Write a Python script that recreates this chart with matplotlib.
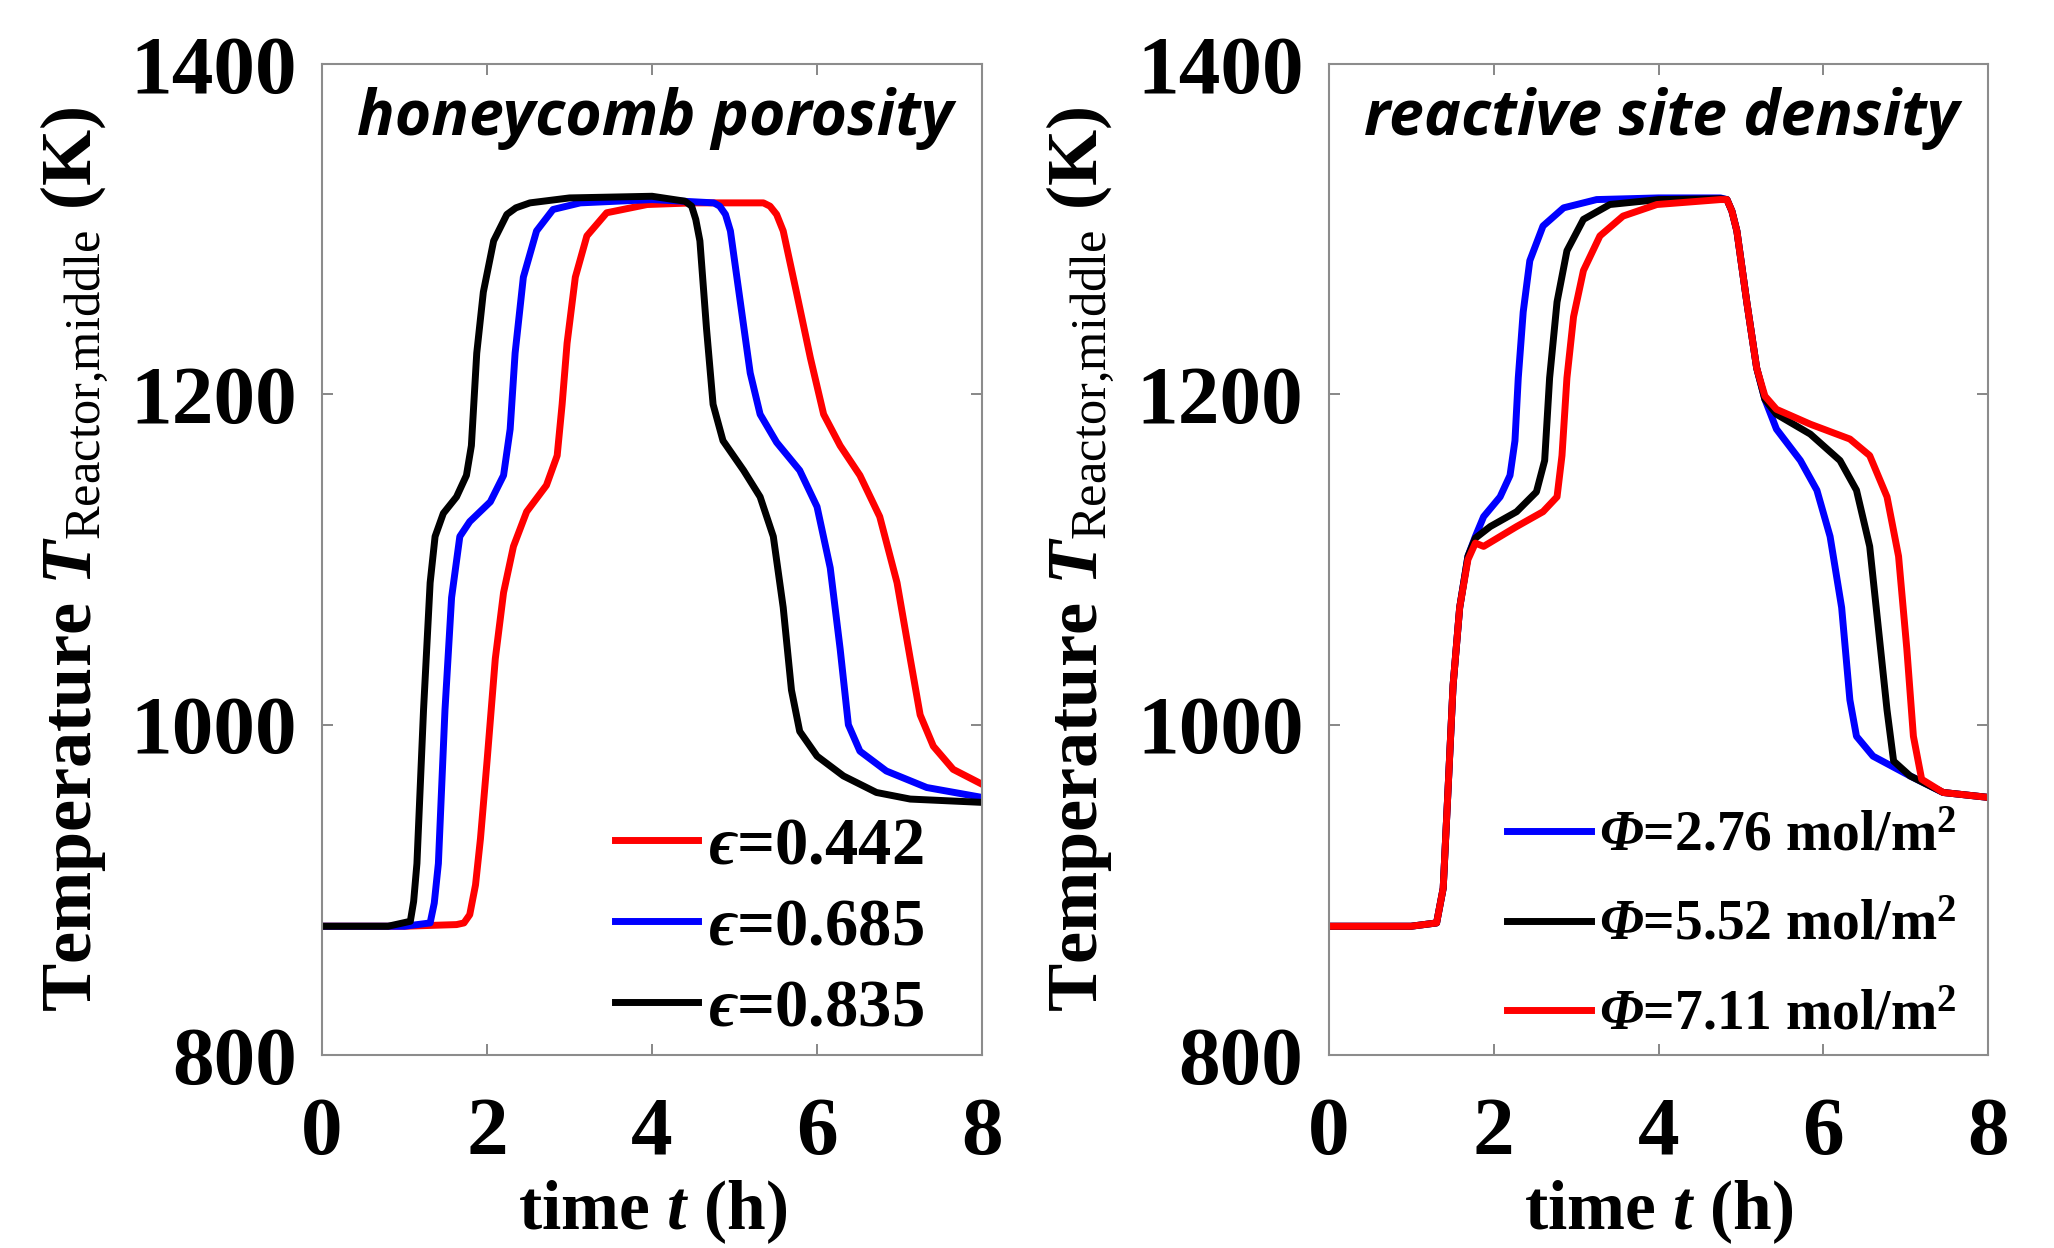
import numpy as np
import matplotlib
matplotlib.use('Agg')
import matplotlib.pyplot as plt

plt.rcParams['font.family'] = ['Liberation Serif', 'DejaVu Serif']
plt.rcParams['font.weight'] = 'bold'
plt.rcParams['axes.labelweight'] = 'bold'
plt.rcParams['mathtext.fontset'] = 'custom'
plt.rcParams['mathtext.rm'] = 'Liberation Serif:bold'
plt.rcParams['mathtext.it'] = 'Liberation Serif:italic:bold'
plt.rcParams['mathtext.bf'] = 'Liberation Serif:bold'
plt.rcParams['mathtext.bfit'] = 'Liberation Serif:italic:bold'
plt.rcParams['mathtext.sf'] = 'Liberation Serif:weight=normal'
plt.rcParams['mathtext.fallback'] = 'stix'

# ---- left panel: honeycomb porosity ----
t_e442 = [0, 1.0, 1.63, 1.72, 1.79, 1.86, 1.92, 2.00, 2.10, 2.20, 2.32, 2.48, 2.72, 2.85,
          2.91, 2.97, 3.07, 3.21, 3.45, 3.94, 4.5, 5.0, 5.35, 5.43, 5.51, 5.59, 5.75, 5.92,
          6.08, 6.28, 6.52, 6.76, 6.97, 7.13, 7.25, 7.41, 7.65, 8.0]
T_e442 = [878, 878, 879, 880, 885, 903, 931, 978, 1040, 1080, 1108, 1129, 1145, 1163,
          1194, 1231, 1271, 1296, 1310, 1315, 1316, 1316, 1316, 1314, 1309, 1299, 1262, 1222,
          1188, 1169, 1151, 1126, 1086, 1040, 1006, 987, 973, 964]

t_e685 = [0, 1.0, 1.31, 1.36, 1.41, 1.49, 1.57, 1.67, 1.79, 2.04, 2.20, 2.28, 2.34, 2.44,
          2.60, 2.80, 3.13, 4.0, 4.75, 4.82, 4.89, 4.95, 5.07, 5.19, 5.31, 5.51, 5.79, 6.00,
          6.16, 6.28, 6.38, 6.52, 6.84, 7.33, 8.0]
T_e685 = [878, 878, 880, 892, 916, 1009, 1077, 1114, 1123, 1135, 1151, 1179, 1225, 1271,
          1299, 1312, 1316, 1318, 1316, 1314, 1309, 1299, 1256, 1213, 1188, 1171, 1154, 1132,
          1095, 1046, 1000, 984, 972, 962, 956]

t_e835 = [0, 0.8, 1.07, 1.11, 1.15, 1.23, 1.31, 1.37, 1.47, 1.63, 1.75, 1.81, 1.875, 1.955,
          2.08, 2.24, 2.35, 2.52, 3.0, 4.0, 4.40, 4.48, 4.53, 4.58, 4.66, 4.74, 4.86, 5.11,
          5.31, 5.47, 5.59, 5.69, 5.79, 6.00, 6.32, 6.72, 7.13, 8.0]
T_e835 = [878, 878, 881, 893, 916, 1009, 1086, 1114, 1128, 1138, 1151, 1169, 1225, 1262,
          1293, 1309, 1313, 1316, 1319, 1320, 1317, 1314, 1306, 1293, 1240, 1194, 1172, 1154,
          1138, 1114, 1071, 1021, 996, 981, 969, 959, 955, 953]

# ---- right panel: reactive site density ----
t_p276 = [0, 1.0, 1.31, 1.39, 1.45, 1.51, 1.59, 1.69, 1.78, 1.88, 2.08, 2.20, 2.26, 2.30,
          2.36, 2.44, 2.60, 2.85, 3.25, 4.0, 4.75, 4.83, 4.89, 4.95, 5.07, 5.19, 5.29, 5.43,
          5.72, 5.92, 6.08, 6.22, 6.32, 6.40, 6.60, 7.05, 7.45, 8.0]
T_p276 = [878, 878, 880, 901, 962, 1024, 1071, 1102, 1114, 1126, 1138, 1151, 1172, 1210,
          1250, 1281, 1302, 1313, 1318, 1319, 1319, 1318, 1311, 1299, 1256, 1216, 1197, 1179,
          1160, 1142, 1114, 1071, 1015, 993, 981, 969, 959, 956]

t_p552 = [0, 1.0, 1.31, 1.39, 1.45, 1.51, 1.59, 1.69, 1.78, 1.96, 2.28, 2.52, 2.62, 2.68,
          2.77, 2.89, 3.09, 3.41, 4.0, 4.75, 4.83, 4.89, 4.95, 5.07, 5.19, 5.29, 5.43, 5.84,
          6.20, 6.40, 6.56, 6.66, 6.77, 6.85, 7.05, 7.45, 8.0]
T_p552 = [878, 878, 880, 901, 962, 1024, 1071, 1102, 1113, 1120, 1129, 1141, 1160, 1210,
          1256, 1287, 1306, 1315, 1318, 1318.5, 1318, 1311, 1299, 1256, 1216, 1197, 1188, 1176,
          1160, 1142, 1108, 1061, 1009, 978, 969, 959, 956]

t_p711 = [0, 1.0, 1.31, 1.39, 1.45, 1.51, 1.59, 1.69, 1.78, 1.88, 2.28, 2.60, 2.77, 2.83,
          2.89, 2.97, 3.09, 3.29, 3.57, 3.98, 4.75, 4.83, 4.89, 4.95, 5.07, 5.19, 5.29, 5.43,
          5.84, 6.32, 6.56, 6.77, 6.91, 7.01, 7.09, 7.19, 7.45, 8.0]
T_p711 = [878, 878, 880, 901, 962, 1024, 1071, 1100, 1110, 1108, 1120, 1129, 1138, 1163,
          1210, 1247, 1275, 1296, 1308, 1315, 1318, 1318, 1311, 1299, 1256, 1216, 1199, 1191,
          1182, 1173, 1163, 1138, 1102, 1046, 993, 967, 959, 956]

left_series = [(t_e442, T_e442, 'red', r'$ϵ$=0.442'),
               (t_e685, T_e685, 'blue', r'$ϵ$=0.685'),
               (t_e835, T_e835, 'black', r'$ϵ$=0.835')]
right_series = [(t_p276, T_p276, 'blue', r'$\mathbfit{\Phi}$=2.76 mol/m$^{2}$'),
                (t_p552, T_p552, 'black', r'$\mathbfit{\Phi}$=5.52 mol/m$^{2}$'),
                (t_p711, T_p711, 'red', r'$\mathbfit{\Phi}$=7.11 mol/m$^{2}$')]

fig = plt.figure(figsize=(20.54, 12.48), dpi=100)
ax1 = fig.add_axes([0.1568, 0.1546, 0.3213, 0.794])
ax2 = fig.add_axes([0.6468, 0.1546, 0.3213, 0.794])

titles = ['honeycomb porosity', 'reactive site density']
ylab = r'Temperature $\mathbfit{T}_{\mathsf{Reactor{,}middle}}$ (K)'

panels = [(ax1, left_series, titles[0], 48, 1.25, 0.3, (0.912, 0.016)),
          (ax2, right_series, titles[1], 40, 1.5, 0.67, (0.952, 0.014))]

for ax, series, title, lfs, hl, ls, anchor in panels:
    for t, T, c, lab in series:
        ax.plot(t, T, color=c, lw=5, label=lab)
    ax.set_xlim(0, 8)
    ax.set_ylim(800, 1400)
    ax.set_xticks([0, 2, 4, 6, 8])
    ax.set_yticks([800, 1000, 1200, 1400])
    ax.tick_params(axis='both', direction='in', top=True, right=True, length=8,
                   width=1.2, color='0.45', labelsize=60)
    ax.tick_params(axis='x', pad=30)
    ax.tick_params(axis='y', pad=18)
    for s in ax.spines.values():
        s.set_color('0.55')
        s.set_linewidth(1.5)
    ax.set_xlabel(r'time $\mathbfit{t}$ (h)', fontsize=50, labelpad=5)
    ax.set_ylabel(ylab, fontsize=52)
    ax.yaxis.set_label_coords(-0.32, 0.5)
    ax.text(0.505, 0.928, title, transform=ax.transAxes, ha='center', va='baseline',
            fontsize=45, fontweight='bold', fontstyle='italic', family='Open Sans')
    ax.legend(loc='lower right', bbox_to_anchor=anchor, frameon=False, fontsize=lfs,
              handlelength=hl, handletextpad=0.15, labelspacing=ls, borderaxespad=0,
              borderpad=0)

fig.savefig('out.png', dpi=100)
